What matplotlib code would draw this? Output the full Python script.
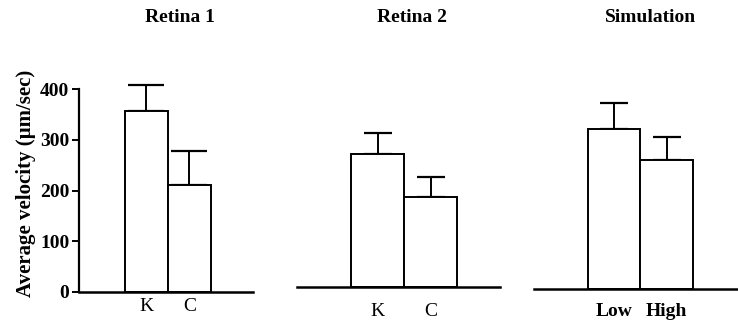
import matplotlib
matplotlib.use("Agg")
import matplotlib.pyplot as plt

plt.rcParams['font.family'] = ['Liberation Serif', 'DejaVu Serif']

# values (um/sec)
titles = ["Retina 1", "Retina 2", "Simulation"]
labels1 = ["K", "C"]
labels2 = ["K", "C"]
labels3 = ["Low", "High"]
means1 = [357, 211]
errs1 = [51, 67]
means2 = [261, 176]
errs2 = [41, 41]
means3 = [315, 254]
errs3 = [51, 46]
yticks = [0, 100, 200, 300, 400]

W, H = 738, 321
fig = plt.figure(figsize=(W / 100, H / 100), dpi=100)

PX_PER_UNIT = 0.5075
YMAX = 430


def make_ax(x0, x1, base):
    h = YMAX * PX_PER_UNIT
    return fig.add_axes([x0 / W, (H - base) / H, (x1 - x0) / W, h / H])


def draw_panel(ax, labels, means, errs, xlim, cap, bold_labels, pad):
    pos = list(range(len(means)))
    ax.bar(pos, means, width=1.0, color="white", edgecolor="black",
           linewidth=1.4, zorder=2)
    ax.errorbar(pos, means, yerr=[[0] * len(errs), errs], fmt="none",
                ecolor="black", elinewidth=1.4, capsize=cap, capthick=1.6,
                zorder=1)
    ax.set_xlim(*xlim)
    ax.set_ylim(0, YMAX)
    ax.set_xticks(pos)
    ax.set_xticklabels(labels, fontsize=14,
                       fontweight="bold" if bold_labels else "normal")
    ax.tick_params(axis="x", length=0, pad=pad)
    for s in ["top", "right"]:
        ax.spines[s].set_visible(False)
    ax.spines["bottom"].set_linewidth(1.8)


# panel 1
ax1 = make_ax(79, 253, 292)
draw_panel(ax1, labels1, means1, errs1, (-1.57, 2.48), 13, False, 4)
ax1.set_yticks(yticks)
ax1.set_yticklabels([str(t) for t in yticks], fontsize=14, fontweight="bold")
ax1.tick_params(axis="y", length=5, width=1.4, pad=2)
ax1.spines["left"].set_linewidth(1.6)
ax1.spines["left"].set_bounds(0, 400)
ax1.set_ylabel("Average velocity (\u00b5m/sec)", fontsize=15,
               fontweight="bold", labelpad=3)

# panel 2
ax2 = make_ax(297, 500, 286.7)
draw_panel(ax2, labels2, means2, errs2, (-1.52, 2.31), 10, False, 12)
ax2.spines["left"].set_visible(False)
ax2.set_yticks([])

# panel 3
ax3 = make_ax(534, 738, 289)
draw_panel(ax3, labels3, means3, errs3, (-1.53, 2.36), 10, True, 10)
ax3.spines["left"].set_visible(False)
ax3.set_yticks([])

# titles
for cx, t in zip([180, 412, 651], titles):
    fig.text(cx / W, 1 - 17 / H, t, ha="center", va="center",
             fontsize=14, fontweight="bold")

fig.savefig("out.png", dpi=100)
